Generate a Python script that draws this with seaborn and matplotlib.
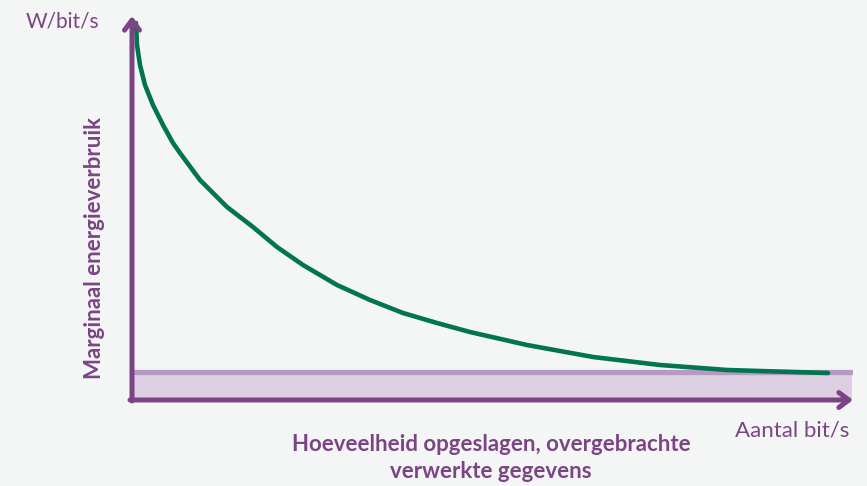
import matplotlib
matplotlib.use('Agg')
import matplotlib.pyplot as plt
import seaborn as sns
import pandas as pd

# curve (arbitrary units: x = amount, y = marginal energy)
curve_x = [4, 5, 8, 13, 21, 31, 41, 48, 68, 95, 121, 145, 171, 205, 238,
           271, 305, 338, 395, 461, 528, 595, 661, 696]
curve_y = [377, 355, 335, 315, 295, 275, 257, 247, 220, 193, 173, 153, 135,
           115, 100, 87, 77, 68, 55, 43, 35, 30, 28, 27]

# floor band
band_x = [0, 720]
band_y = [28, 28]

purple = '#7b4585'
green = '#00754f'
bg = '#f4f6f5'

sns.set_theme(style='white')
plt.rcParams['font.family'] = ['Lato', 'DejaVu Sans']

W, H = 867, 486
fig = plt.figure(figsize=(W / 100, H / 100), dpi=100, facecolor=bg)
ax = fig.add_axes([132 / W, (H - 400) / H, 721 / W, 385 / H])
ax.set_facecolor(bg)
ax.set_xlim(0, 721)
ax.set_ylim(0, 385)
ax.set_axis_off()

# band
ax.fill_between(band_x, 0, band_y, color='#dccfe1', lw=0, zorder=1)
band = pd.DataFrame({'x': band_x, 'y': band_y})
sns.lineplot(data=band, x='x', y='y', ax=ax, color='#b79ac4', lw=3.8, zorder=2)

# curve
df = pd.DataFrame({'x': curve_x, 'y': curve_y})
sns.lineplot(data=df, x='x', y='y', ax=ax, color=green, lw=3.3,
             solid_capstyle='round', solid_joinstyle='round', zorder=3)

# axes with arrow heads
arrow = dict(arrowstyle='->,head_width=0.45,head_length=0.6', lw=3.6,
             color=purple, capstyle='round', shrinkA=0, shrinkB=0)
ax.annotate('', xy=(0, 384), xytext=(0, -1), arrowprops=arrow,
            annotation_clip=False, zorder=4)
ax.annotate('', xy=(721, 0), xytext=(-2, 0), arrowprops=arrow,
            annotation_clip=False, zorder=4)

def fx(px):
    return px / W

def fy(py):
    return 1 - py / H

fig.text(fx(62), fy(22), 'W/bit/s', color=purple, fontsize=15,
         ha='center', va='center')
fig.text(fx(792), fy(430), 'Aantal bit/s', color=purple, fontsize=16,
         ha='center', va='center')
fig.text(fx(95), fy(248), 'Marginaal energieverbruik', color=purple,
         fontsize=16, fontweight='bold', rotation=90, ha='center', va='center')
fig.text(fx(491), fy(458), 'Hoeveelheid opgeslagen, overgebrachte\nverwerkte gegevens',
         color=purple, fontsize=16, fontweight='bold', ha='center', va='center',
         linespacing=1.3)

fig.savefig('out.png', dpi=100, facecolor=bg)
